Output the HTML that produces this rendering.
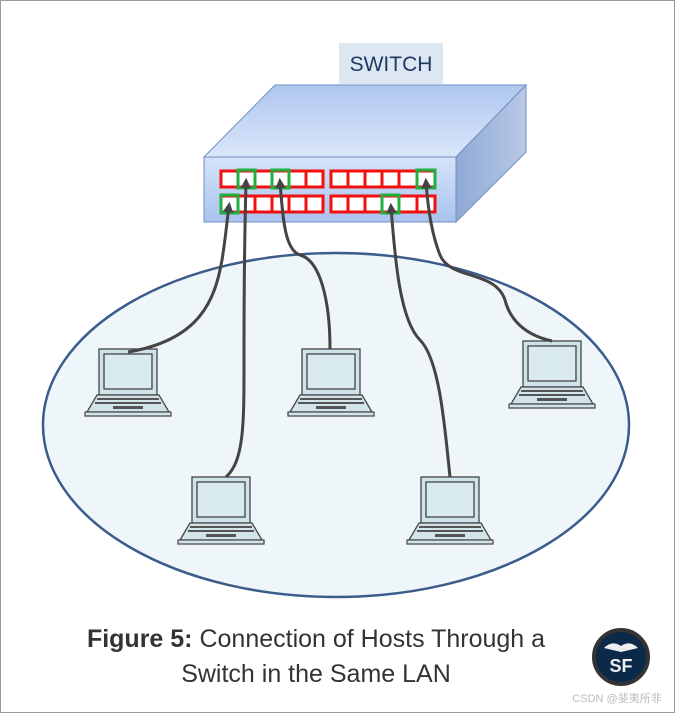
<!DOCTYPE html>
<html><head><meta charset="utf-8"><style>
body{margin:0;background:#fff}
svg{display:block}
</style></head><body>
<svg width="675" height="713" viewBox="0 0 675 713" xmlns="http://www.w3.org/2000/svg">
<defs>
<linearGradient id="top" x1="0" y1="0" x2="0" y2="1"><stop offset="0" stop-color="#aec6ee"/><stop offset="1" stop-color="#dbe7fb"/></linearGradient>
<linearGradient id="front" x1="0" y1="0" x2="0" y2="1"><stop offset="0" stop-color="#d6e3f9"/><stop offset="1" stop-color="#a9c3ee"/></linearGradient>
<linearGradient id="side" x1="0" y1="0" x2="1" y2="0"><stop offset="0" stop-color="#8fa9d6"/><stop offset="1" stop-color="#b9c9e6"/></linearGradient>
<marker id="ah" viewBox="0 0 10 10" refX="6" refY="5" markerWidth="3.5" markerHeight="3.5" orient="auto"><path d="M0,0 L10,5 L0,10 z" fill="#444"/></marker>
<g id="lap">
<rect x="14" y="0" width="58" height="46" fill="#cfe3ea" stroke="#444" stroke-width="1.3"/>
<rect x="19" y="5" width="48" height="35" fill="#d9ebf1" stroke="#444" stroke-width="1.3"/>
<path d="M12,46 L74,46 L84,63 L2,63 Z" fill="#d0e4ea" stroke="#444" stroke-width="1.3"/>
<line x1="12" y1="50" x2="74" y2="50" stroke="#555" stroke-width="2"/>
<line x1="10" y1="54" x2="76" y2="54" stroke="#555" stroke-width="2"/>
<rect x="28" y="57" width="30" height="3" fill="#555"/>
<rect x="0" y="63" width="86" height="4" fill="#d0e4ea" stroke="#444" stroke-width="1.2"/>
</g>
</defs>
<rect x="0.5" y="0.5" width="674" height="712" fill="#fff" stroke="#9a9a9a"/>
<ellipse cx="336" cy="425" rx="293" ry="172" fill="#eef6f9" stroke="#3b5c8c" stroke-width="2.5"/>
<rect x="339" y="43" width="104" height="41" fill="#dde7f1"/>
<text x="391" y="71" text-anchor="middle" font-family="Liberation Sans, sans-serif" font-size="21" fill="#1f3864">SWITCH</text>
<polygon points="204,157 275,85 526,85 456,157" fill="url(#top)" stroke="#6f8fc4" stroke-width="1"/>
<polygon points="456,157 526,85 526,152 456,222" fill="url(#side)" stroke="#6f8fc4" stroke-width="1"/>
<rect x="204" y="157" width="252" height="65" fill="url(#front)" stroke="#6f8fc4" stroke-width="1"/>
<g fill="#fff" stroke="#f01010" stroke-width="3">
<rect x="221" y="171" width="102" height="16"/><rect x="331" y="171" width="104" height="16"/>
<rect x="221" y="196" width="102" height="16"/><rect x="331" y="196" width="104" height="16"/>
</g>
<g stroke="#f01010" stroke-width="3">
<path d="M238,171v16M255,171v16M272,171v16M289,171v16M306,171v16M348,171v16M365,171v16M382,171v16M399,171v16M417,171v16"/>
<path d="M238,196v16M255,196v16M272,196v16M289,196v16M306,196v16M348,196v16M365,196v16M382,196v16M399,196v16M417,196v16"/>
</g>
<g fill="none" stroke="#20b040" stroke-width="3">
<rect x="238" y="170" width="17" height="18"/><rect x="272" y="170" width="17" height="18"/><rect x="417" y="170" width="18" height="18"/>
<rect x="221" y="195" width="17" height="18"/><rect x="382" y="195" width="17" height="18"/>
</g>
<use href="#lap" x="85" y="349"/>
<use href="#lap" x="288" y="349"/>
<use href="#lap" x="509" y="341"/>
<use href="#lap" x="178" y="477"/>
<use href="#lap" x="407" y="477"/>
<g fill="none" stroke="#444" stroke-width="3" marker-end="url(#ah)">
<path d="M128,352 C200,340 215,300 222,260 C226,235 227,220 229,206"/>
<path d="M226,477 C245,460 244,420 244,350 C244,280 245,220 246,182"/>
<path d="M330,349 C330,300 320,260 300,255 C285,250 283,220 280,182"/>
<path d="M450,477 C445,430 440,360 420,340 C400,320 395,260 391,207"/>
<path d="M552,341 C525,335 510,320 505,300 C495,270 450,280 440,255 C432,235 428,210 426,182"/>
</g>
<text x="316" y="647" text-anchor="middle" font-family="Liberation Sans, sans-serif" font-size="25" fill="#333"><tspan font-weight="bold">Figure 5:</tspan>  Connection of Hosts Through a</text>
<text x="316" y="682" text-anchor="middle" font-family="Liberation Sans, sans-serif" font-size="25" fill="#333">Switch in the Same LAN</text>
<circle cx="621" cy="657" r="27" fill="#0b2a4a" stroke="#333" stroke-width="4"/>
<path d="M604,648 Q612,640 621,646 Q630,640 638,648 L621,652 Z" fill="#eee"/>
<text x="621" y="672" text-anchor="middle" font-family="Liberation Sans, sans-serif" font-size="18" font-weight="bold" fill="#eee">SF</text>
<text x="617" y="702" text-anchor="middle" font-family="Liberation Sans, 'Noto Sans CJK SC', sans-serif" font-size="11" fill="#bbb">CSDN @斐夷所非</text>
</svg>
</body></html>
